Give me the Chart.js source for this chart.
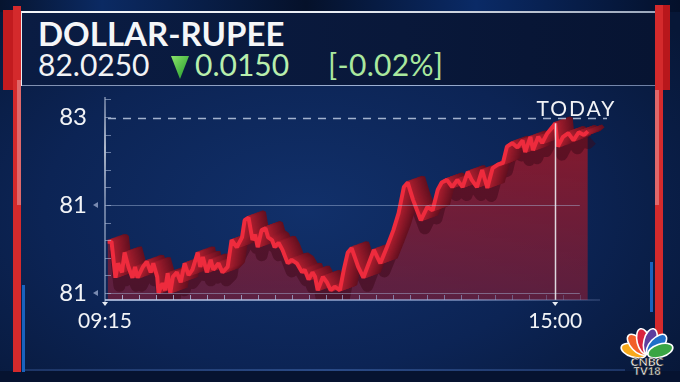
<!DOCTYPE html>
<html>
<head>
<meta charset="utf-8">
<script src="https://cdn.jsdelivr.net/npm/chart.js@4.4.0/dist/chart.umd.min.js"></script>
<style>
html, body { margin: 0; padding: 0; }
body {
    width: 680px; height: 382px; overflow: hidden; position: relative;
    font-family: Lato, "Open Sans", sans-serif;
    background: radial-gradient(ellipse 70% 75% at 45% 55%, #11306a 0%, #0c2455 55%, #071737 100%);
}
.abs { position: absolute; }
#topstrip { left: 0; top: 0; width: 680px; height: 12px; background: linear-gradient(90deg, #06142f, #0b2a63 15%, #05112a 45%, #0a2a66 70%, #04102a); }
#header { left: 22px; top: 12px; width: 633px; height: 74px; background: linear-gradient(90deg, #0a1c43, #09183a 60%, #071432); }
#lineTop { left: 20px; top: 11px; width: 640px; height: 2px; background: linear-gradient(90deg, #f4f6fa, #e8ecf3 50%, #9aa6bb 100%); }
#lineBot { left: 20px; top: 85px; width: 635px; height: 1px; background: linear-gradient(90deg, #7f8fb0, #9fb3d6 60%, #6d7fa3); }
#lineLeft { left: 20px; top: 11px; width: 2px; height: 75px; background: #e9edf4; }
#title { left: 38px; top: 17px; font-size: 33px; font-weight: 700; color: #f5f6f8; line-height: 1; }
#last { left: 38px; top: 49px; font-size: 30px; color: #f2f3f5; line-height: 1; }
#chg { left: 195px; top: 49px; font-size: 30px; color: #b8efad; line-height: 1; }
#pct { left: 328px; top: 49px; font-size: 30px; color: #a9e89e; line-height: 1; letter-spacing: 0.3px; }
#bottomLine { left: 25px; top: 369px; width: 600px; height: 2px; background: linear-gradient(90deg, #1d3566, #2a4a86 50%, #1d3566); }
#bottomStrip { left: 0; top: 371px; width: 680px; height: 11px; background: #061330; }
#c { position: absolute; left: 0; top: 0; }
</style>
</head>
<body>
<div id="topstrip" class="abs"></div>
<div id="header" class="abs"></div>
<div id="lineTop" class="abs"></div>
<div id="lineBot" class="abs"></div>
<div id="lineLeft" class="abs"></div>
<div id="bottomLine" class="abs"></div>
<div id="bottomStrip" class="abs"></div>

<div class="abs" style="left:3px;top:10px;width:10px;height:80px;background:#c21b1f"></div>
<div class="abs" style="left:13px;top:6px;width:8px;height:366px;background:#d42a2c"></div>
<div class="abs" style="left:17px;top:80px;width:4px;height:125px;background:#e0686a"></div>
<div class="abs" style="left:22px;top:285px;width:3px;height:87px;background:#1a62bd"></div>
<div class="abs" style="left:655px;top:5px;width:8px;height:330px;background:#d42a2c"></div>
<div class="abs" style="left:655px;top:90px;width:4px;height:115px;background:#e0686a"></div>
<div class="abs" style="left:663px;top:5px;width:7px;height:85px;background:#b8171b"></div>
<div class="abs" style="left:650px;top:262px;width:3px;height:50px;background:#1a62bd"></div>

<div id="title" class="abs">DOLLAR-RUPEE</div>
<div id="last" class="abs">82.0250</div>
<svg class="abs" style="left:170px;top:54px" width="20" height="26">
  <defs><linearGradient id="tg" x1="0" y1="0" x2="1" y2="1">
    <stop offset="0" stop-color="#8be36a"/><stop offset="1" stop-color="#1f9a2a"/></linearGradient></defs>
  <polygon points="1,2 19,2 10,25" fill="url(#tg)"/>
</svg>
<div id="chg" class="abs">0.0150</div>
<div id="pct" class="abs">[-0.02%]</div>

<svg class="abs" style="left:614px;top:318px" width="66" height="60">
  <g transform="translate(33,37)" stroke="#ffffff" stroke-width="1.6">
    <ellipse cx="0" cy="-14" rx="6.5" ry="13" fill="#f7a91b" transform="rotate(-72)"/>
    <ellipse cx="0" cy="-14" rx="6.5" ry="13" fill="#f2602a" transform="rotate(-43)"/>
    <ellipse cx="0" cy="-14" rx="6.5" ry="13" fill="#d9233e" transform="rotate(-14)"/>
    <ellipse cx="0" cy="-14" rx="6.5" ry="13" fill="#5d3d9e" transform="rotate(14)"/>
    <ellipse cx="0" cy="-14" rx="6.5" ry="13" fill="#1e6fc8" transform="rotate(43)"/>
    <ellipse cx="0" cy="-14" rx="6.5" ry="13" fill="#3aa544" transform="rotate(72)"/>
  </g>
  <text x="33" y="48" text-anchor="middle" font-family="Lato" font-weight="900" font-size="12" fill="#fff" stroke="#222" stroke-width="0.6">CNBC</text>
  <text x="33" y="57" text-anchor="middle" font-family="Lato" font-weight="900" font-size="11" fill="#fff" stroke="#222" stroke-width="0.6">TV18</text>
</svg>

<canvas id="c" width="680" height="382"></canvas>

<script>
// intraday USD/INR
var times = ['09:17','09:20','09:23','09:25','09:28','09:30','09:33','09:36','09:38','09:40',
    '09:44','09:47','09:50','09:52','09:55','09:56','09:59','10:01','10:03','10:05',
    '10:07','10:10','10:13','10:16','10:19','10:22','10:26','10:28','10:30','10:33',
    '10:36','10:38','10:42','10:45','10:49','10:52','10:56','11:00','11:02','11:05',
    '11:08','11:10','11:12','11:15','11:18','11:20','11:23','11:25','11:28','11:31',
    '11:35','11:38','11:42','11:46','11:48','11:51','11:54','11:56','11:58','12:02',
    '12:05','12:08','12:11','12:15','12:18','12:21','12:24','12:29','12:33','12:41',
    '12:46','12:51','12:56','13:00','13:04','13:07','13:11','13:17','13:22','13:26',
    '13:30','13:33','13:37','13:41','13:45','13:49','13:53','13:56','14:00','14:04',
    '14:08','14:12','14:16','14:20','14:23','14:27','14:31','14:35','14:37','14:41',
    '14:43','14:47','14:50','14:54','14:58','15:00','15:02','15:06','15:10','15:14',
    '15:18','15:22','15:25'];
var rates = [81.902,81.902,81.862,81.878,81.868,81.890,81.874,81.862,81.874,81.862,
    81.874,81.880,81.868,81.878,81.863,81.845,81.856,81.848,81.867,81.845,
    81.863,81.868,81.857,81.878,81.865,81.871,81.890,81.874,81.885,81.868,
    81.882,81.871,81.878,81.868,81.874,81.904,81.896,81.907,81.926,81.929,
    81.904,81.910,81.896,81.915,81.917,81.907,81.904,81.896,81.901,81.893,
    81.878,81.882,81.878,81.868,81.871,81.860,81.868,81.863,81.848,81.863,
    81.857,81.848,81.852,81.848,81.871,81.890,81.895,81.874,81.862,81.893,
    81.878,81.896,81.915,81.934,81.963,81.968,81.949,81.926,81.941,81.937,
    81.960,81.968,81.971,81.963,81.971,81.963,81.980,81.971,81.963,81.982,
    81.962,81.984,81.988,81.990,82.008,82.012,82.007,82.015,82.002,82.019,
    82.004,82.019,82.012,82.023,82.030,82.034,82.008,82.019,82.023,82.015,
    82.024,82.021,82.025];

var yTickValues = [81.845, 81.943, 82.041];
var yTickLabels = ['81', '81', '83'];
var xTickTimes = ['09:15', '15:00'];
var prevClose = 82.04;
var markTime = '15:00';
var markLabel = 'TODAY';

function toMin(t) {
    var p = t.split(':');
    return (+p[0]) * 60 + (+p[1]);
}

var points = [];
for (var i in times) {
    points.push({x: toMin(times[i]), y: rates[i]});
}

// 3d ribbon look: a dark drop shadow, then the line drawn several times pushed back up-right
var ribbon = {
    id: 'ribbon',
    beforeDatasetDraw: function (chart, args) {
        if (args.index !== 0) return;
        var line = args.meta.dataset;
        var orig = line.options;
        var ctx = chart.ctx;
        var a = chart.chartArea;
        ctx.save();
        ctx.beginPath();
        ctx.rect(a.left, a.top, a.right - a.left, a.bottom - a.top);
        ctx.clip();
        line.options = Object.assign({}, orig, {borderColor: 'rgba(60,8,24,0.5)', borderWidth: 12, borderJoinStyle: 'round'});
        ctx.save();
        ctx.translate(4, 8);
        line.draw(ctx, a);
        ctx.restore();
        var n = 14;
        for (var k = n; k >= 1; k--) {
            var t = k / n;
            var r = Math.round(170 - 70 * t), g = Math.round(30 - 14 * t), b = Math.round(46 - 14 * t);
            line.options = Object.assign({}, orig, {borderColor: 'rgb(' + r + ',' + g + ',' + b + ')', borderJoinStyle: 'bevel'});
            ctx.save();
            ctx.translate(k * 1.1, -k * 0.4);
            line.draw(ctx, a);
            ctx.restore();
        }
        ctx.restore();
        line.options = orig;
    }
};

var decor = {
    id: 'decor',
    afterDatasetsDraw: function (chart) {
        var ctx = chart.ctx, x = chart.scales.x, y = chart.scales.y, a = chart.chartArea;
        var lastX = x.getPixelForValue(toMin(times[times.length - 1]));
        ctx.save();
        // grid lines at the labelled levels
        ctx.strokeStyle = 'rgba(170,190,225,0.45)';
        ctx.lineWidth = 1;
        [yTickValues[0], yTickValues[1]].forEach(function (v) {
            var py = Math.round(y.getPixelForValue(v)) + 0.5;
            ctx.beginPath(); ctx.moveTo(a.left + 2, py); ctx.lineTo(lastX - 8, py); ctx.stroke();
        });
        // previous close, dashed
        var pc = Math.round(y.getPixelForValue(prevClose)) + 0.5;
        ctx.strokeStyle = 'rgba(200,212,235,0.8)';
        ctx.lineWidth = 1.5;
        ctx.setLineDash([8, 7]);
        ctx.beginPath(); ctx.moveTo(a.left + 3, pc); ctx.lineTo(a.right - 3, pc); ctx.stroke();
        ctx.setLineDash([]);
        // 15:00 marker
        var mx = Math.round(x.getPixelForValue(toMin(markTime))) + 0.5;
        var mv = rates[times.indexOf(markTime)];
        ctx.strokeStyle = 'rgba(235,235,240,0.9)';
        ctx.lineWidth = 1.5;
        ctx.beginPath(); ctx.moveTo(mx, y.getPixelForValue(mv)); ctx.lineTo(mx, a.bottom); ctx.stroke();
        // TODAY
        ctx.fillStyle = '#f2f3f6';
        ctx.font = '21px Lato';
        ctx.letterSpacing = '2px';
        ctx.textAlign = 'center';
        ctx.textBaseline = 'alphabetic';
        ctx.fillText(markLabel, mx + 21, pc - 3);
        ctx.restore();
    },
    afterDraw: function (chart) {
        var ctx = chart.ctx, x = chart.scales.x, y = chart.scales.y, a = chart.chartArea;
        ctx.save();
        // y axis line
        var g = ctx.createLinearGradient(0, a.top, 0, a.bottom);
        g.addColorStop(0, 'rgba(200,210,230,0.6)');
        g.addColorStop(0.25, 'rgba(240,244,250,0.95)');
        g.addColorStop(0.5, 'rgba(200,210,230,0.7)');
        g.addColorStop(1, 'rgba(170,185,215,0.6)');
        ctx.strokeStyle = g;
        ctx.lineWidth = 1.5;
        ctx.beginPath(); ctx.moveTo(a.left, a.top); ctx.lineTo(a.left, a.bottom + 2); ctx.stroke();
        // y minor ticks
        ctx.strokeStyle = 'rgba(170,185,215,0.6)';
        ctx.lineWidth = 1;
        var step = (yTickValues[1] - yTickValues[0]) / 5;
        for (var v = yTickValues[0]; v <= y.max; v += step) {
            var py = Math.round(y.getPixelForValue(v)) + 0.5;
            ctx.beginPath(); ctx.moveTo(a.left, py); ctx.lineTo(a.left + 6, py); ctx.stroke();
        }
        // little arrows beside the labels
        ctx.fillStyle = 'rgba(150,165,200,0.8)';
        [yTickValues[0], yTickValues[1]].forEach(function (v) {
            var py = y.getPixelForValue(v);
            ctx.beginPath(); ctx.moveTo(a.left - 12, py); ctx.lineTo(a.left - 7, py - 3); ctx.lineTo(a.left - 7, py + 3); ctx.fill();
        });
        // x axis
        var gx = ctx.createLinearGradient(a.left, 0, a.right, 0);
        gx.addColorStop(0, 'rgba(190,205,235,0.8)');
        gx.addColorStop(0.7, 'rgba(150,170,215,0.6)');
        gx.addColorStop(1, 'rgba(120,140,190,0.2)');
        ctx.strokeStyle = gx;
        ctx.lineWidth = 2;
        ctx.beginPath(); ctx.moveTo(a.left, a.bottom); ctx.lineTo(a.right - 10, a.bottom); ctx.stroke();
        ctx.lineWidth = 1;
        for (var m = toMin(xTickTimes[0]) + 13; m < x.max - 20; m += 13) {
            var px = Math.round(x.getPixelForValue(m)) + 0.5;
            ctx.beginPath(); ctx.moveTo(px, a.bottom - 5); ctx.lineTo(px, a.bottom); ctx.stroke();
        }
        // down arrows under the time labels
        ctx.fillStyle = '#e6ebf3';
        xTickTimes.forEach(function (t) {
            var px = x.getPixelForValue(toMin(t));
            ctx.beginPath(); ctx.moveTo(px - 3, a.bottom + 2); ctx.lineTo(px + 3, a.bottom + 2); ctx.lineTo(px, a.bottom + 6); ctx.fill();
        });
        ctx.restore();
    }
};

var ctx = document.getElementById('c').getContext('2d');
var fillGrad = ctx.createLinearGradient(0, 120, 0, 300);
fillGrad.addColorStop(0, 'rgba(150,24,40,0.9)');
fillGrad.addColorStop(1, 'rgba(125,30,55,0.7)');

var chart = new Chart(ctx, {
    type: 'line',
    data: {
        datasets: [{
            label: 'USD/INR',
            data: points,
            borderColor: '#ee2b3d',
            borderWidth: 4,
            borderJoinStyle: 'bevel',
            pointRadius: 0,
            tension: 0,
            fill: 'start',
            backgroundColor: fillGrad
        }]
    },
    options: {
        responsive: false,
        animation: false,
        layout: {padding: {left: 0, right: 70, top: 97, bottom: 0}},
        plugins: {legend: {display: false}, tooltip: {enabled: false}},
        scales: {
            x: {
                type: 'linear',
                min: toMin('09:15'),
                max: toMin('09:15') + 387,
                grid: {display: false, drawTicks: false},
                border: {display: false},
                afterBuildTicks: function (s) {
                    s.ticks = xTickTimes.map(function (t) { return {value: toMin(t)}; });
                },
                afterFit: function (s) { s.height = 82; },
                ticks: {
                    autoSkip: false, maxRotation: 0, padding: 9,
                    color: '#f2f4f7', font: {family: 'Lato', size: 21},
                    callback: function (v, i) { return xTickTimes[i]; }
                }
            },
            y: {
                min: 81.8372,
                max: 82.0633,
                grid: {display: false, drawTicks: false},
                border: {display: false},
                afterBuildTicks: function (s) {
                    s.ticks = yTickValues.map(function (v) { return {value: v}; });
                },
                afterFit: function (s) { s.width = 105; },
                ticks: {
                    padding: 18,
                    color: '#f2f4f7', font: {family: 'Lato', size: 24},
                    callback: function (v, i) { return yTickLabels[i]; }
                }
            }
        }
    },
    plugins: [ribbon, decor]
});
</script>
</body>
</html>
